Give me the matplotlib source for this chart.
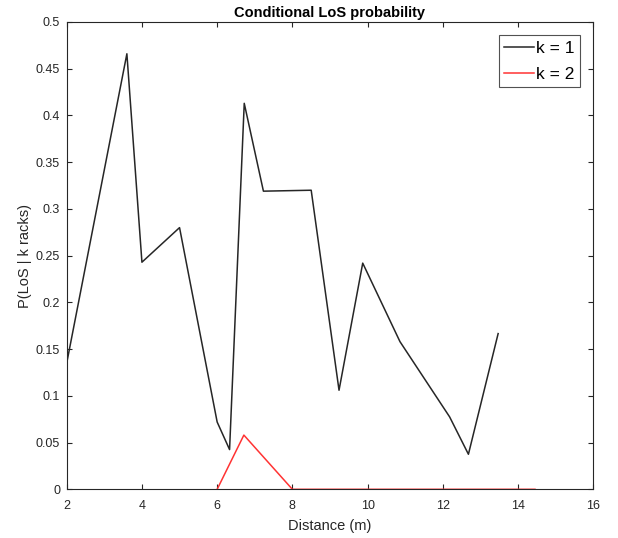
import matplotlib
matplotlib.use("Agg")
import matplotlib.pyplot as plt

plt.rcParams['font.family'] = ['Liberation Sans', 'DejaVu Sans']

x_k1 = [2.0, 3.6, 4.0, 5.0, 6.0, 6.33, 6.72, 7.23, 8.5, 9.24, 9.87, 10.86, 12.18, 12.68, 13.47]
p_k1 = [0.135, 0.466, 0.243, 0.280, 0.072, 0.0425, 0.413, 0.319, 0.320, 0.106, 0.242, 0.158, 0.0775, 0.0375, 0.1666]
x_k2 = [6.0, 6.71, 8.0, 14.45]
p_k2 = [0.0, 0.058, 0.0, 0.0]
x_ticks = [2, 4, 6, 8, 10, 12, 14, 16]
y_ticks = [0, 0.05, 0.1, 0.15, 0.2, 0.25, 0.3, 0.35, 0.4, 0.45, 0.5]
y_ticklabels = ['0', '0.05', '0.1', '0.15', '0.2', '0.25', '0.3', '0.35', '0.4', '0.45', '0.5']

fig = plt.figure(figsize=(6.18, 5.38), dpi=100)
ax = fig.add_axes([66.7/618, 1-489.3/538, (593.3-66.7)/618, (489.3-22)/538])

ax.plot(x_k1, p_k1, color='#262626', lw=1.1, label='k = 1')
ax.plot(x_k2, p_k2, color='#ff3333', lw=1.1, label='k = 2')

ax.set_xlim(2, 16)
ax.set_ylim(0, 0.5)
ax.set_xticks(x_ticks)
ax.set_yticks(y_ticks)
ax.set_yticklabels(y_ticklabels)

axc = '#262626'
for s in ax.spines.values():
    s.set_color(axc)
    s.set_linewidth(0.8)
ax.tick_params(direction='in', length=3.6, width=0.8, color=axc, labelcolor=axc,
               labelsize=9, top=True, right=True)
ax.tick_params(axis='x', pad=8)
ax.tick_params(axis='y', pad=4.8)

ax.set_title('Conditional LoS probability', fontsize=10.5, fontweight='bold', color='black', pad=3.5)
ax.set_xlabel('Distance (m)', fontsize=10.5, color=axc, labelpad=5)
ax.set_ylabel('P(LoS | k racks)', fontsize=10.5, color=axc, labelpad=3)

leg = ax.legend(loc='upper right', fontsize=12.5, frameon=True, fancybox=False,
                edgecolor=axc, handlelength=1.75, handletextpad=0.1,
                borderpad=0.32, labelspacing=0.63, borderaxespad=0.75)
leg.get_frame().set_linewidth(0.8)
for t in leg.get_texts():
    t.set_color('black')

fig.savefig('out.png', dpi=100)
